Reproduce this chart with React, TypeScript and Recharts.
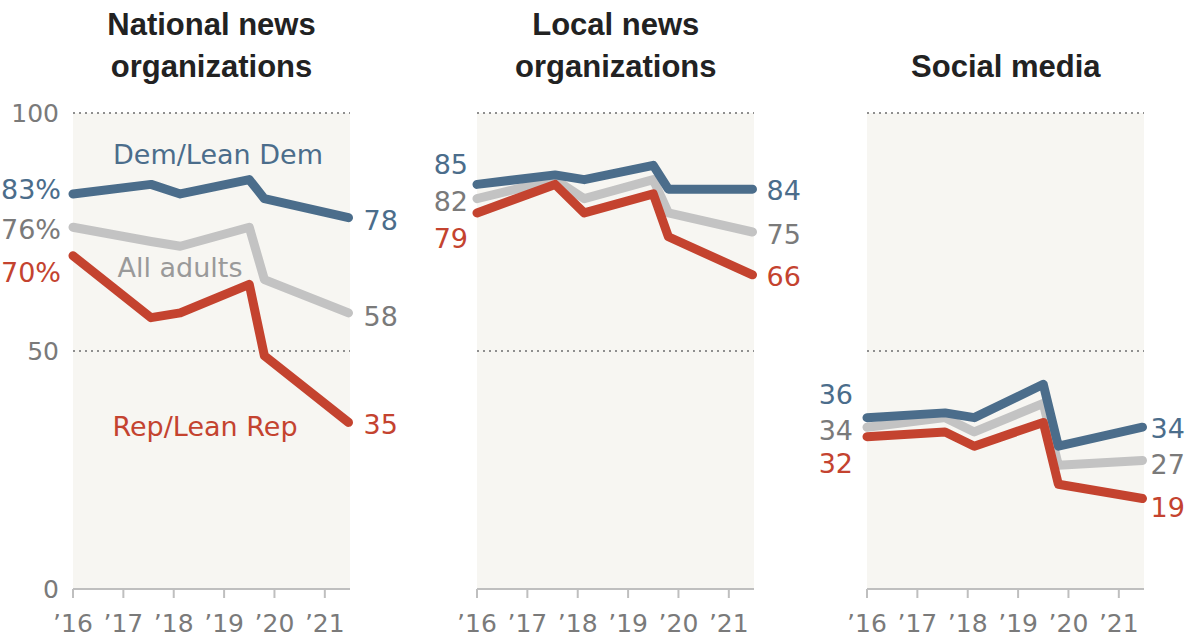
import { CartesianGrid, Line, LineChart, XAxis, YAxis } from "recharts"

// survey waves, as fractional years
const surveyDates = [2016.0, 2017.55, 2018.13, 2019.5, 2019.8, 2021.47]
const yearTicks = [2016, 2017, 2018, 2019, 2020, 2021]
const valueTicks = [0, 50, 100]
const gridValues = [50, 100]

const nationalDem = [83, 85, 83, 86, 82, 78]
const nationalAll = [76, 73, 72, 76, 65, 58]
const nationalRep = [70, 57, 58, 64, 49, 35]

const localDem = [85, 87, 86, 89, 84, 84]
const localAll = [82, 86, 82, 86, 79, 75]
const localRep = [79, 85, 79, 83, 74, 66]

const socialDem = [36, 37, 36, 43, 30, 34]
const socialAll = [34, 36, 33, 39, 26, 27]
const socialRep = [32, 33, 30, 35, 22, 19]

const BLUE = "#4b6d8b"
const GRAY_LINE = "#c3c3c3"
const GRAY_TEXT = "#7a7a7a"
const RED = "#c4432f"
const BG = "#f7f6f2"
const FONT = '"DejaVu Sans", sans-serif'

const buildRows = (dem: number[], all: number[], rep: number[]) =>
  surveyDates.map((date, i) => ({ date, dem: dem[i], all: all[i], rep: rep[i] }))

type LabelOpts = { gapL: number; gapR: number; dyL: number; dyR: number; suffix: string }

const makeEndLabel = (color: string, opts: LabelOpts) => (props: any) => {
  const x = props.x ?? props.viewBox?.x
  const y = props.y ?? props.viewBox?.y
  const last = surveyDates.length - 1
  if (props.index === 0) {
    return (
      <text x={x - opts.gapL} y={y + opts.dyL} dy="0.36em" textAnchor="end" fill={color} fontSize={27} fontFamily={FONT}>
        {`${props.value}${opts.suffix}`}
      </text>
    )
  }
  if (props.index === last) {
    return (
      <text x={x + opts.gapR} y={y + opts.dyR} dy="0.36em" textAnchor="start" fill={color} fontSize={27} fontFamily={FONT}>
        {props.value}
      </text>
    )
  }
  return null
}

type Panel = {
  left: number
  rows: ReturnType<typeof buildRows>
  showY: boolean
  suffix: string
  gapL: number
  gapR: number
  dy: { dem: [number, number]; all: [number, number]; rep: [number, number] }
}

const panels: Panel[] = [
  {
    left: 0,
    rows: buildRows(nationalDem, nationalAll, nationalRep),
    showY: true,
    suffix: "%",
    gapL: 12,
    gapR: 15,
    dy: { dem: [-5, 3], all: [2, 3], rep: [16, 2] },
  },
  {
    left: 404,
    rows: buildRows(localDem, localAll, localRep),
    showY: false,
    suffix: "",
    gapL: 9,
    gapR: 14,
    dy: { dem: [-20, 1], all: [3, 2], rep: [25, 1] },
  },
  {
    left: 794,
    rows: buildRows(socialDem, socialAll, socialRep),
    showY: false,
    suffix: "",
    gapL: 14,
    gapR: 8,
    dy: { dem: [-23, 1], all: [3, 4], rep: [27, 9] },
  },
]

function SmallChart({ panel }: { panel: Panel }) {
  const series = [
    { key: "all", stroke: GRAY_LINE, text: GRAY_TEXT },
    { key: "dem", stroke: BLUE, text: BLUE },
    { key: "rep", stroke: RED, text: RED },
  ] as const
  return (
    <div style={{ position: "absolute", left: panel.left, top: 0 }}>
      <LineChart width={420} height={639} data={panel.rows} margin={{ top: 113, right: 70, bottom: 20, left: 0 }}>
        <CartesianGrid
          vertical={false}
          horizontalValues={gridValues}
          fill={BG}
          stroke="#8f8f8f"
          strokeWidth={2}
          strokeDasharray="2 4"
        />
        <XAxis
          dataKey="date"
          type="number"
          domain={[2016, 2021.5]}
          ticks={yearTicks}
          interval={0}
          tickFormatter={(v: number) => `\u2019${String(v).slice(2)}`}
          stroke="#bfbfbf"
          strokeWidth={2}
          tickSize={9}
          tickMargin={16}
          tick={{ fill: GRAY_TEXT, fontSize: 25, fontFamily: FONT }}
        />
        <YAxis
          type="number"
          domain={[0, 100]}
          ticks={valueTicks}
          interval={0}
          width={73}
          axisLine={false}
          tickLine={false}
          tickSize={0}
          tickMargin={14}
          tick={{ fill: panel.showY ? GRAY_TEXT : "transparent", fontSize: 25, fontFamily: FONT }}
        />
        {series.map((s) => (
          <Line
            key={s.key}
            dataKey={s.key}
            type="linear"
            stroke={s.stroke}
            strokeWidth={9}
            strokeLinejoin="round"
            strokeLinecap="round"
            dot={false}
            activeDot={false}
            isAnimationActive={false}
            label={makeEndLabel(s.text, {
              gapL: panel.gapL,
              gapR: panel.gapR,
              dyL: panel.dy[s.key][0],
              dyR: panel.dy[s.key][1],
              suffix: panel.suffix,
            })}
          />
        ))}
      </LineChart>
    </div>
  )
}

const titleStyle = (center: number, top: number): React.CSSProperties => ({
  position: "absolute",
  left: center - 160,
  top,
  width: 320,
  textAlign: "center",
  fontFamily: '"Liberation Sans", Arial, sans-serif',
  fontWeight: 700,
  fontSize: 31,
  lineHeight: "42px",
  color: "#222",
})

const noteStyle = (cx: number, cy: number, color: string): React.CSSProperties => ({
  position: "absolute",
  left: cx - 150,
  top: cy - 18,
  width: 300,
  height: 36,
  lineHeight: "36px",
  textAlign: "center",
  fontFamily: FONT,
  fontSize: 27,
  color,
})

export default function App() {
  return (
    <div
      style={{
        position: "absolute",
        left: 0,
        top: 0,
        width: 1194,
        height: 639,
        overflow: "hidden",
        background: "#fff",
        fontFamily: FONT,
      }}
    >
      {panels.map((p, i) => (
        <SmallChart key={i} panel={p} />
      ))}
      <div style={titleStyle(211.5, 4)}>
        National news
        <br />
        organizations
      </div>
      <div style={titleStyle(615.8, 4)}>
        Local news
        <br />
        organizations
      </div>
      <div style={titleStyle(1005.8, 46)}>Social media</div>
      <div style={noteStyle(218, 155, BLUE)}>Dem/Lean Dem</div>
      <div style={noteStyle(180, 268, "#9a9a9a")}>All adults</div>
      <div style={noteStyle(205, 427, RED)}>Rep/Lean Rep</div>
    </div>
  )
}
